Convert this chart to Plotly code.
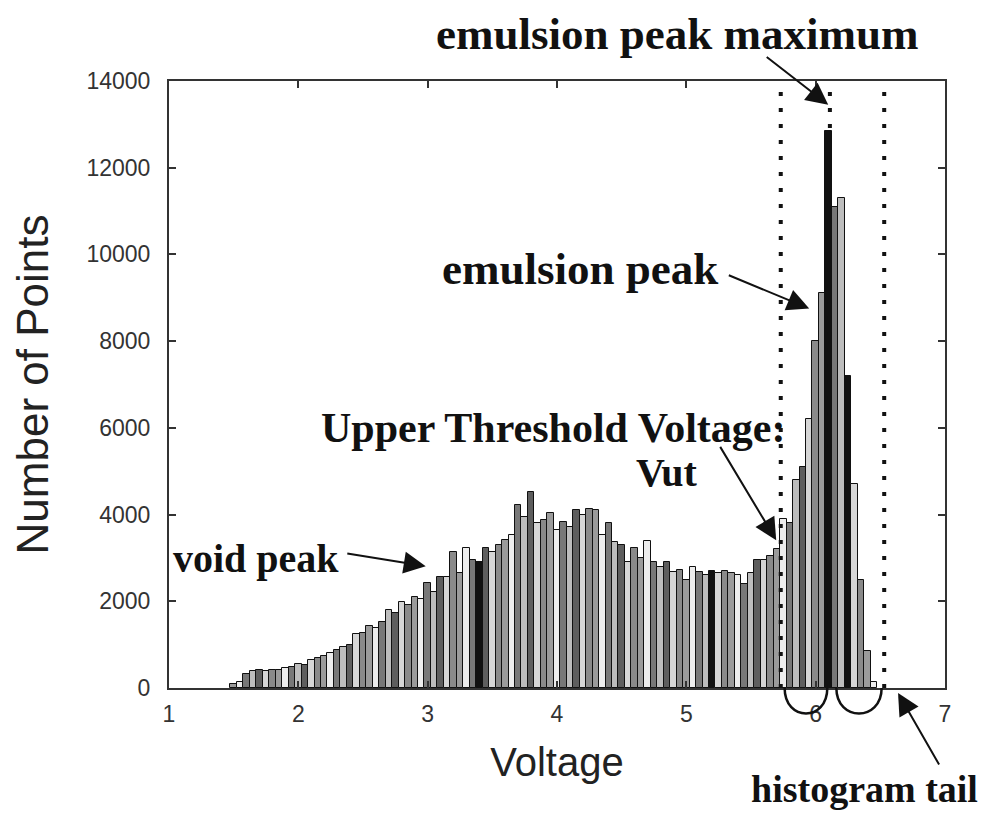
import plotly.graph_objects as go

# ---------------- data ----------------
voltage = [1.50, 1.55, 1.60, 1.65, 1.70, 1.75, 1.80, 1.85, 1.90, 1.95,
           2.00, 2.05, 2.10, 2.15, 2.20, 2.25, 2.30, 2.35, 2.40, 2.45,
           2.50, 2.55, 2.60, 2.65, 2.70, 2.75, 2.80, 2.85, 2.90, 2.95,
           3.00, 3.05, 3.10, 3.15, 3.20, 3.25, 3.30, 3.35, 3.40, 3.45,
           3.50, 3.55, 3.60, 3.65, 3.70, 3.75, 3.80, 3.85, 3.90, 3.95,
           4.00, 4.05, 4.10, 4.15, 4.20, 4.25, 4.30, 4.35, 4.40, 4.45,
           4.50, 4.55, 4.60, 4.65, 4.70, 4.75, 4.80, 4.85, 4.90, 4.95,
           5.00, 5.05, 5.10, 5.15, 5.20, 5.25, 5.30, 5.35, 5.40, 5.45,
           5.50, 5.55, 5.60, 5.65, 5.70, 5.75, 5.80, 5.85, 5.90, 5.95,
           6.00, 6.05, 6.10, 6.15, 6.20, 6.25, 6.30, 6.35, 6.40, 6.45]

counts = [100, 150, 330, 400, 410, 400, 420, 410, 450, 480,
          550, 520, 640, 700, 730, 800, 880, 950, 1000, 1250,
          1280, 1420, 1380, 1530, 1800, 1720, 1980, 1910, 2100, 2050,
          2420, 2210, 2560, 2560, 3130, 2650, 3220, 2950, 2900, 3220,
          3130, 3300, 3410, 3520, 4210, 3940, 4510, 3800, 3870, 4030,
          3640, 3820, 3710, 4100, 3980, 4140, 4100, 3520, 3800, 3360,
          3290, 2900, 3220, 2990, 3380, 2900, 2800, 2900, 2670, 2720,
          2500, 2790, 2670, 2600, 2700, 2650, 2700, 2650, 2600, 2400,
          2650, 2950, 2950, 3050, 3200, 3900, 3800, 4800, 5100, 6200,
          8000, 9100, 12850, 11100, 11300, 7200, 4700, 2500, 850, 150]

x_ticks = [1, 2, 3, 4, 5, 6, 7]
y_ticks = [0, 2000, 4000, 6000, 8000, 10000, 12000, 14000]

vut_voltage = 5.73
peak_voltage = 6.11
tail_voltage = 6.53

# ---------------- style ----------------
shade_cycle = ["#9b9b9b", "#ededed", "#787878", "#bdbdbd", "#5e5e5e", "#d6d6d6", "#8a8a8a"]
bar_colors = [shade_cycle[i % len(shade_cycle)] for i in range(len(counts))]
for v_dark in (3.40, 5.20, 6.10, 6.25):
    if v_dark in voltage:
        bar_colors[voltage.index(v_dark)] = "#111111"

X_MIN, X_MAX = 1, 7
Y_MIN, Y_MAX = 0, 14000
W, H = 991, 814
M_L, M_R, M_T, M_B = 161, 54, 73, 134
PLOT_W = W - M_L - M_R
PLOT_H = H - M_T - M_B


def px(v):
    return (v - X_MIN) / (X_MAX - X_MIN)


def py(v):
    return (v - Y_MIN) / (Y_MAX - Y_MIN)


fig = go.Figure()
fig.add_trace(go.Bar(
    x=voltage, y=counts, width=0.05,
    marker=dict(color=bar_colors, line=dict(color="#111111", width=1)),
    showlegend=False, hoverinfo="x+y",
))

# dotted vertical lines
for v in (vut_voltage, peak_voltage, tail_voltage):
    fig.add_shape(type="line", xref="x", yref="paper", x0=v, x1=v, y0=0, y1=1,
                  line=dict(color="#111111", width=4, dash="4px,12px"), layer="above")

# half-circle arcs below the axis
arc_depth = 0.056
for a, b in ((vut_voltage + 0.03, peak_voltage - 0.02), (peak_voltage + 0.05, tail_voltage - 0.02)):
    xa, xb = px(a), px(b)
    path = f"M {xa},0 C {xa},{-arc_depth} {xb},{-arc_depth} {xb},0"
    fig.add_shape(type="path", xref="paper", yref="paper", path=path,
                  line=dict(color="#111111", width=2.5))

serif = "Liberation Serif, Times New Roman, serif"
sans = "Liberation Sans, Arial, sans-serif"

texts = [
    ("emulsion peak maximum", 4.93, 15080, 45),
    ("emulsion peak", 4.18, 9670, 45),
    ("Upper Threshold Voltage:", 3.97, 5990, 42),
    ("Vut", 4.85, 4980, 40),
    ("void peak", 1.67, 2990, 40),
    ("histogram tail", 6.38, -2340, 38),
]
for t, x, y, s in texts:
    fig.add_annotation(x=px(x), y=py(y), xref="paper", yref="paper", text=f"<b>{t}</b>",
                       showarrow=False, font=dict(family=serif, size=s, color="#111111"),
                       xanchor="center", yanchor="middle")

arrows = [
    ((5.61, 14580), (6.097, 13450)),
    ((5.317, 9535), (5.95, 8752)),
    ((5.255, 5596), (5.695, 3408)),
    ((2.367, 3109), (2.985, 2810)),
    ((6.961, -1800), (6.637, -115)),
]
for (tx, ty), (hx, hy) in arrows:
    fig.add_annotation(x=px(hx), y=py(hy), xref="paper", yref="paper",
                       ax=(px(tx) - px(hx)) * PLOT_W, ay=-(py(ty) - py(hy)) * PLOT_H,
                       axref="pixel", ayref="pixel",
                       text="", showarrow=True, arrowhead=2, arrowsize=2.2, arrowwidth=2,
                       arrowcolor="#111111")

fig.update_layout(
    width=W, height=H,
    margin=dict(l=M_L, r=M_R, t=M_T, b=M_B),
    paper_bgcolor="white", plot_bgcolor="white",
    bargap=0,
    xaxis=dict(range=[X_MIN, X_MAX], tickvals=x_ticks, ticktext=[str(v) for v in x_ticks],
               showgrid=False, zeroline=False, showline=True, linecolor="#333333", linewidth=2,
               mirror="ticks", ticks="inside", ticklen=7, tickcolor="#333333", tickwidth=1.5,
               ticklabelstandoff=4,
               tickfont=dict(family=sans, size=23, color="#333333"),
               title=dict(text="Voltage", font=dict(family=sans, size=40, color="#222222"), standoff=22)),
    yaxis=dict(range=[Y_MIN, Y_MAX], tickvals=y_ticks, ticktext=[str(v) for v in y_ticks],
               showgrid=False, zeroline=False, showline=True, linecolor="#333333", linewidth=2,
               mirror="ticks", ticks="inside", ticklen=7, tickcolor="#333333", tickwidth=1.5,
               ticklabelstandoff=12,
               tickfont=dict(family=sans, size=23, color="#333333"),
               title=dict(text="Number of Points", font=dict(family=sans, size=44, color="#222222"), standoff=30)),
)

fig.write_html("out.html")
